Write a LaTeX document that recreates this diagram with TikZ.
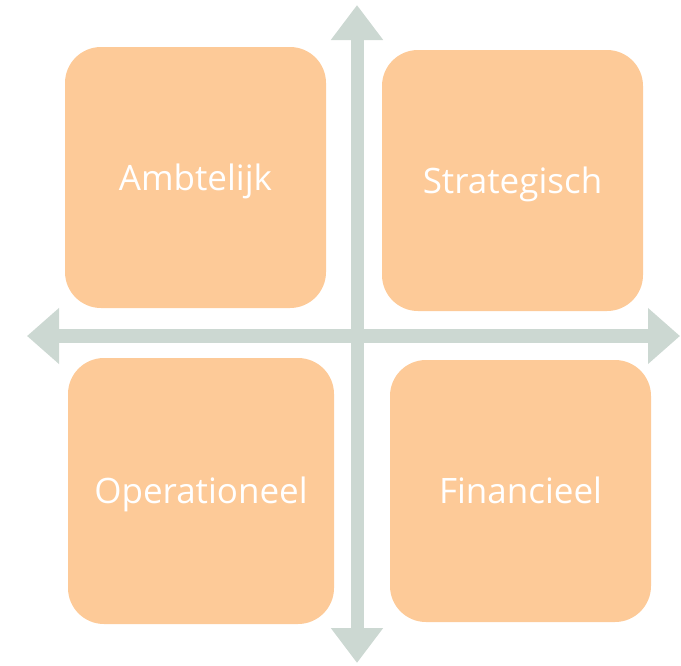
\documentclass[tikz,border=0pt]{standalone}
\usepackage{fontspec}
\setmainfont{Open Sans}
\usetikzlibrary{arrows.meta}
\definecolor{boxfill}{HTML}{FDCA98}
\definecolor{axis}{HTML}{CCD8D2}
\begin{document}
\begin{tikzpicture}[x=1pt,y=-1pt,
  quad/.style={fill=boxfill, draw=none, rounded corners=36pt, text=white,
    font=\fontsize{35}{42}\selectfont, inner sep=0pt, anchor=center,
    text height=25pt, text depth=0pt},
  axisline/.style={draw=axis}]
\useasboundingbox (0,0) rectangle (681,665);
\coordinate (L) at (27,336);
\coordinate (R) at (680,336);
\coordinate (T) at (357,5);
\coordinate (B) at (357,663);
\draw[axisline, line width=13.5pt, {Triangle[length=32pt,width=54pt]}-{Triangle[length=32pt,width=54pt]}] (L) -- (R);
\draw[axisline, line width=13pt, {Triangle[length=35pt,width=50pt]}-{Triangle[length=35pt,width=50pt]}] (T) -- (B);
\node[quad, minimum width=261pt, minimum height=261pt] (amb) at (195.5,177.5) {Ambtelijk};
\node[quad, minimum width=261pt, minimum height=261pt] (str) at (512.5,180.5) {Strategisch};
\node[quad, minimum width=266pt, minimum height=266pt] (ope) at (201,491) {Operationeel};
\node[quad, minimum width=261pt, minimum height=262pt] (fin) at (520.5,491) {Financieel};
\end{tikzpicture}
\end{document}
